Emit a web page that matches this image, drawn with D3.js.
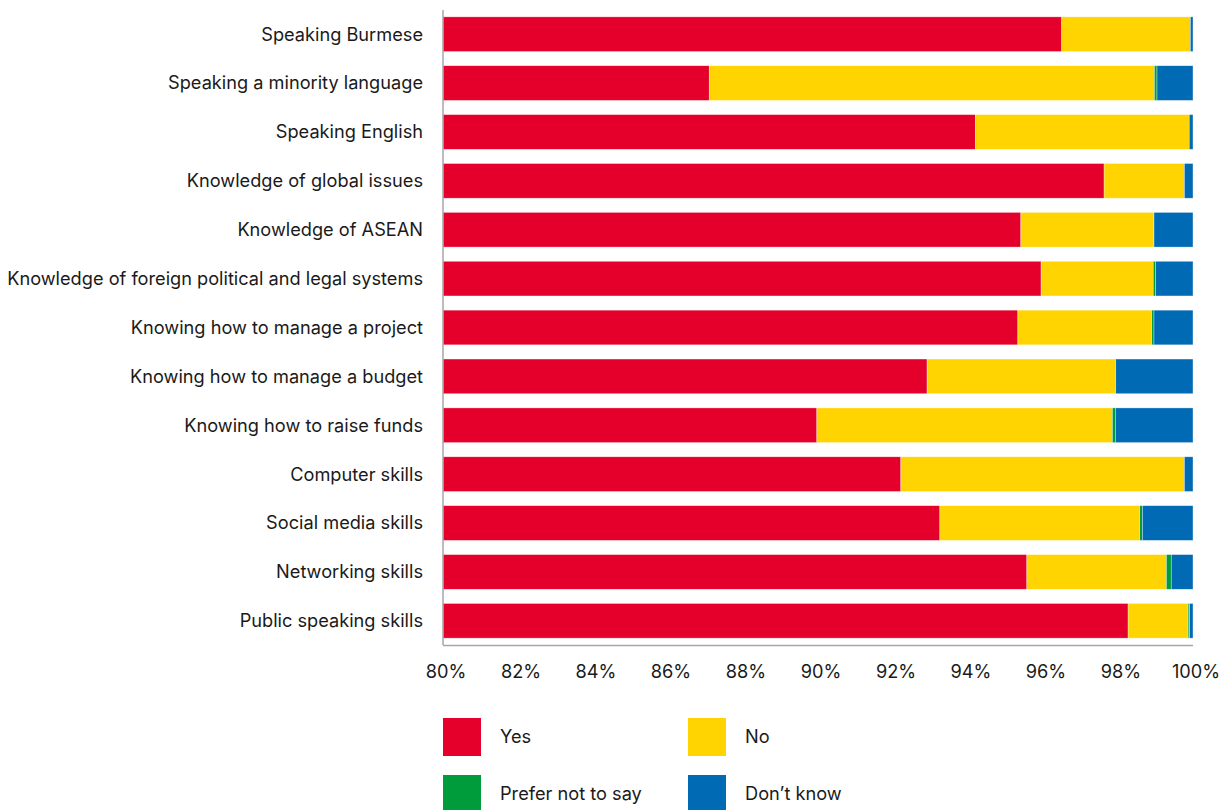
<!DOCTYPE html>
<html><head><meta charset="utf-8">
<script src="https://cdn.jsdelivr.net/npm/d3@7"></script>
<style>body{margin:0;background:#fff;}svg{display:block;}text{font-family:Inter,sans-serif;fill:#1a1a1a;}</style>
</head><body>
<svg id="c" width="1227" height="810"></svg>
<script>
const categories = ["Speaking Burmese","Speaking a minority language","Speaking English","Knowledge of global issues","Knowledge of ASEAN","Knowledge of foreign political and legal systems","Knowing how to manage a project","Knowing how to manage a budget","Knowing how to raise funds","Computer skills","Social media skills","Networking skills","Public speaking skills"];
const yes = [96.5, 87.1, 94.2, 97.63, 95.41, 95.95, 95.33, 92.91, 89.97, 92.21, 93.25, 95.57, 98.27];
const no = [3.43, 11.87, 5.7, 2.14, 3.55, 2.99, 3.57, 5.03, 7.88, 7.56, 5.33, 3.72, 1.6];
const preferNot = [0, 0.07, 0, 0, 0, 0.06, 0.06, 0, 0.08, 0, 0.07, 0.13, 0.04];
const dontKnow = [0.07, 0.96, 0.1, 0.23, 1.04, 1.0, 1.04, 2.06, 2.07, 0.23, 1.35, 0.58, 0.09];
const seriesNames = ["Yes","No","Prefer not to say","Don\u2019t know"];
const seriesColors = ["#e4002b","#ffd400","#009b3a","#006ab4"];
const tickValues = [80,82,84,86,88,90,92,94,96,98,100];

const svg = d3.select("#c");
const x = d3.scaleLinear().domain([80,100]).range([443,1193]);
const y = d3.scaleBand().domain(categories).range([10,645]).paddingInner(0.29).paddingOuter(0.14);

const rows = categories.map((c,i)=>({cat:c, Yes:yes[i], No:no[i], "Prefer not to say":preferNot[i], "Don\u2019t know":dontKnow[i]}));
const stack = d3.stack().keys(seriesNames)(rows);

svg.append("g").selectAll("g").data(stack).join("g")
  .attr("fill",(d,i)=>seriesColors[i])
  .selectAll("rect").data(d=>d).join("rect")
  .attr("x",d=>x(Math.max(80,d[0])))
  .attr("width",d=>Math.max(0,x(d[1])-x(Math.max(80,d[0]))))
  .attr("y",d=>y(d.data.cat))
  .attr("height",y.bandwidth())
  .attr("stroke","#fff").attr("stroke-width",0.6).attr("stroke-opacity",0.6);

// axes
svg.append("line").attr("x1",443).attr("x2",443).attr("y1",10).attr("y2",645).attr("stroke","#a6a6a6").attr("stroke-width",1.5);
svg.append("line").attr("x1",443).attr("x2",1193).attr("y1",645.5).attr("y2",645.5).attr("stroke","#a6a6a6").attr("stroke-width",1.5);

svg.append("g").selectAll("text").data(categories).join("text")
  .attr("x",423).attr("y",d=>y(d)+y.bandwidth()/2).attr("dy","0.35em")
  .attr("text-anchor","end").attr("font-size",18.2).text(d=>d);

svg.append("g").selectAll("text").data(tickValues).join("text")
  .attr("x",d=>x(d)+3).attr("y",678).attr("text-anchor","middle").attr("font-size",18.2)
  .text(d=>d+"%");

// legend
const legPos = [[443,718],[688,718],[443,775],[688,775]];
const leg = svg.append("g").selectAll("g").data(seriesNames).join("g")
  .attr("transform",(d,i)=>`translate(${legPos[i][0]},${legPos[i][1]})`);
leg.append("rect").attr("width",38).attr("height",38).attr("fill",(d,i)=>seriesColors[i]);
leg.append("text").attr("x",57).attr("y",19).attr("dy","0.35em").attr("font-size",18.2).text(d=>d);
</script>
</body></html>
